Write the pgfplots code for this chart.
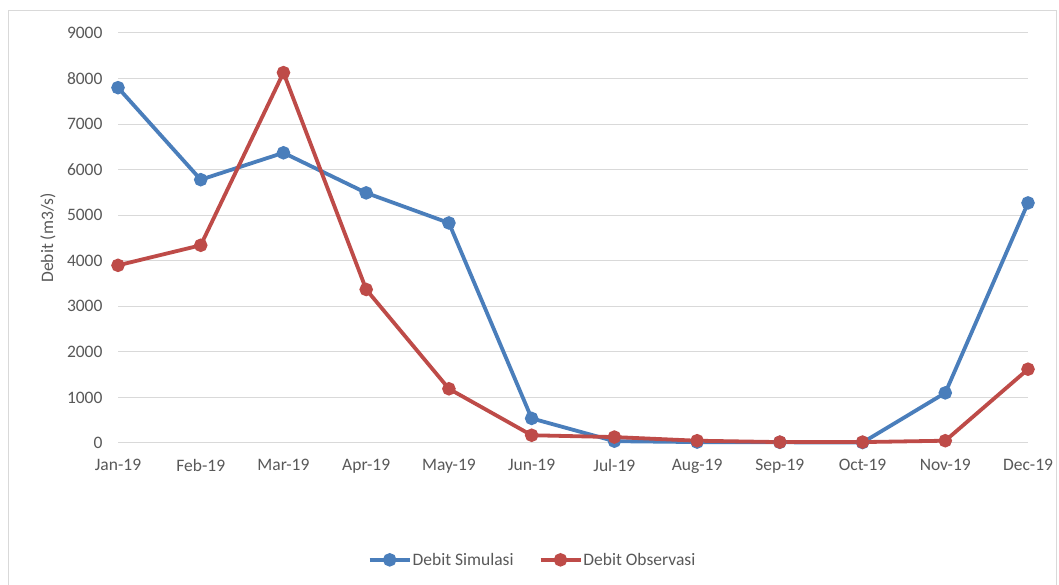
\documentclass[border=0pt]{standalone}
\usepackage{pgfplots}
\pgfplotsset{compat=1.18}
\usepackage{fontspec}
\setmainfont{Carlito}
\definecolor{simblue}{HTML}{4A7EBB}
\definecolor{obsred}{HTML}{BE4B48}
\definecolor{gridgray}{HTML}{D9D9D9}
\definecolor{txtgray}{HTML}{595959}
\begin{document}
\begin{tikzpicture}[x=1bp,y=1bp]
\path[use as bounding box] (0,0) rectangle (1059,585);
\fill[white] (0,0) rectangle (1059,585);
\draw[gridgray, line width=1bp] (8,0) -- (8,574) -- (1056,574) -- (1056,0);
\begin{axis}[
  at={(118bp,142bp)}, anchor=south west,
  scale only axis, width=910bp, height=410bp,
  xmin=0, xmax=11, ymin=0, ymax=9000,
  xtick={0,...,11},
  xticklabels={Jan-19,Feb-19,Mar-19,Apr-19,May-19,Jun-19,Jul-19,Aug-19,Sep-19,Oct-19,Nov-19,Dec-19},
  ytick={0,1000,...,9000},
  /pgf/number format/assume math mode=true,
  /pgf/number format/1000 sep={},
  major tick length=0pt,
  axis line style={draw=none},
  ymajorgrids, grid style={gridgray, line width=1bp},
  clip=false,
  tick label style={font=\fontsize{17.5bp}{20bp}\selectfont, text=txtgray},
  xticklabel style={yshift=-13bp},
  yticklabel style={xshift=-12bp},
  ylabel={Debit (m3/s)},
  ylabel style={font=\fontsize{17.5bp}{20bp}\selectfont, text=txtgray, at={(axis description cs:-0.0769,0.5)}, anchor=center},
  legend style={at={(0.455,-0.285)}, anchor=center, draw=none, fill=none,
    font=\fontsize{17.5bp}{20bp}\selectfont, text=txtgray,
    legend columns=2, inner sep=0pt,
    /tikz/every even column/.append style={column sep=24bp},
    nodes={inner sep=1bp}},
  legend image code/.code={\draw[mark repeat=2,mark phase=2] plot coordinates {(0bp,0bp)(20bp,0bp)(40bp,0bp)};},
]
\addplot[simblue, line width=3.8bp, mark=*, mark size=4.8bp, mark options={solid}] coordinates {
(0,7800) (1,5780) (2,6370) (3,5490) (4,4830) (5,540) (6,40) (7,20) (8,15) (9,10) (10,1100) (11,5270)};
\addlegendentry{Debit Simulasi}
\addplot[obsred, line width=3.8bp, mark=*, mark size=4.8bp, mark options={solid}] coordinates {
(0,3900) (1,4340) (2,8130) (3,3370) (4,1190) (5,170) (6,130) (7,50) (8,20) (9,20) (10,50) (11,1620)};
\addlegendentry{Debit Observasi}
\end{axis}
\end{tikzpicture}
\end{document}
